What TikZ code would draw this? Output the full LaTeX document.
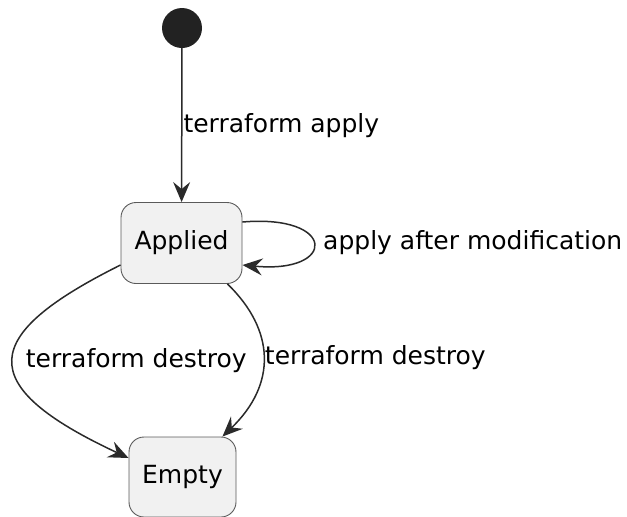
\documentclass[tikz,border=0pt]{standalone}
\usepackage{fontspec}
\setmainfont{DejaVu Sans}
\usetikzlibrary{arrows.meta}
\definecolor{boxfill}{HTML}{F1F1F1}
\definecolor{boxline}{HTML}{5A5A5A}
\definecolor{edgecol}{HTML}{2A2A2A}
\definecolor{startcol}{HTML}{222222}
\begin{document}
\begin{tikzpicture}[x=1pt,y=-1pt,
  every node/.style={font=\fontsize{25pt}{29pt}\selectfont},
  statebox/.style={draw=boxline, fill=boxfill, line width=0.9pt, rounded corners=15pt, inner sep=0pt},
  edge/.style={draw=edgecol, line width=1.5pt, -{Stealth[length=20pt,width=17pt,inset=7pt]}},
  lbl/.style={inner sep=1pt, text=black}]
\useasboundingbox (0,0) rectangle (627,517);
\node[circle, fill=startcol, minimum size=40pt, inner sep=0pt] (start) at (182,28) {};
\node[statebox, minimum width=121pt, minimum height=81pt] (applied) at (181.5,243) {Applied};
\node[statebox, minimum width=107pt, minimum height=80pt] (empty) at (182.5,477) {Empty};
\draw[edge] (start) -- node[lbl, right, pos=0.5] {terraform apply} (applied);
\draw[edge] ([yshift=21pt]applied.east) .. controls (337,214) and (337,274) .. ([yshift=-22pt]applied.east);
\node[lbl, anchor=west] (selflbl) at (322,243) {apply after modification};
\draw[edge] ([yshift=-22pt]applied.west) .. controls (-20,335) and (-28,385) .. node[lbl, right, pos=0.5, xshift=11pt] {terraform destroy} ([yshift=19pt]empty.west);
\draw[edge] ([xshift=-15pt]applied.south east) .. controls (275,330) and (277,384) .. node[lbl, right, pos=0.5] {terraform destroy} ([xshift=-14pt]empty.north east);
\end{tikzpicture}
\end{document}
